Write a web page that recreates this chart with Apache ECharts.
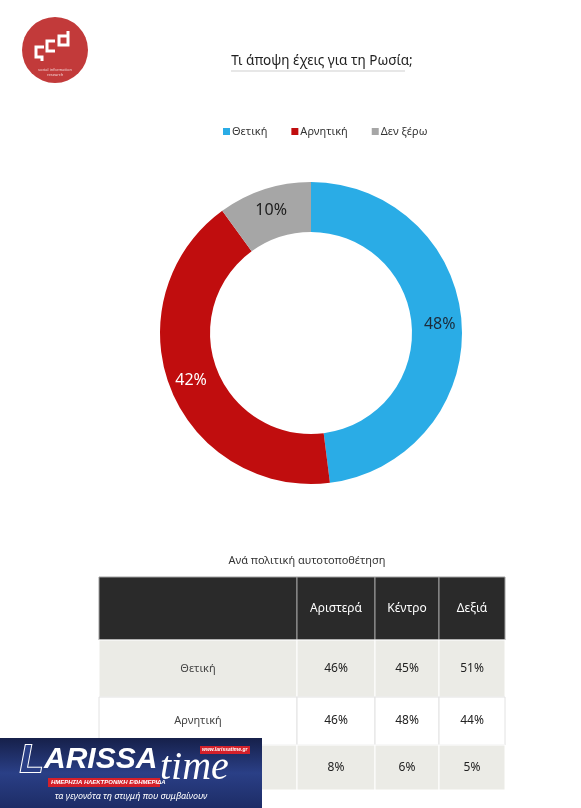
<!DOCTYPE html>
<html>
<head>
<meta charset="utf-8">
<script src="https://cdn.jsdelivr.net/npm/echarts@6/dist/echarts.min.js"></script>
<style>
  html, body { margin: 0; padding: 0; background: #fff; }
  #main { width: 581px; height: 808px; }
</style>
</head>
<body>
<div id="main"></div>
<script>
// donut data
var pieNames = ['Θετική', 'Αρνητική', 'Δεν ξέρω'];
var pieValues = [48, 42, 10];
var pieColors = ['#2aace6', '#c00d0e', '#a6a6a6'];
var pieLabelColors = ['#1c2b3a', '#ffffff', '#1c1c1c'];

// table data (by political self-placement)
var tableCols = ['Αριστερά', 'Κέντρο', 'Δεξιά'];
var tableRows = ['Θετική', 'Αρνητική', 'Δεν ξέρω'];
var leftVals = [46, 46, 8];
var centreVals = [45, 48, 6];
var rightVals = [51, 44, 5];

// table layout (column / row edges in grid units)
var colEdges = [0, 198, 276, 340, 406];
var rowEdges = [0, 63, 120, 168, 213];

var colVals = [leftVals, centreVals, rightVals];
var cells = [];
for (var c = 0; c < 4; c++) {
  cells.push({ value: [c, 0], text: c === 0 ? '' : tableCols[c - 1] });
}
for (var r = 0; r < tableRows.length; r++) {
  cells.push({ value: [0, r + 1], text: tableRows[r] });
  for (var k = 0; k < 3; k++) {
    cells.push({ value: [k + 1, r + 1], text: colVals[k][r] + '%' });
  }
}

var FONT = '"Noto Sans", sans-serif';

function renderCell(params, api) {
  var c = api.value(0), r = api.value(1);
  var p0 = api.coord([colEdges[c], rowEdges[r]]);
  var p1 = api.coord([colEdges[c + 1], rowEdges[r + 1]]);
  var fill, stroke, color, size;
  if (r === 0) {
    fill = '#2a2a2a'; stroke = '#a0a0a0'; color = '#ffffff'; size = 12;
  } else if (r % 2 === 1) {
    fill = '#ebebe6'; stroke = '#ffffff'; color = c === 0 ? '#444' : '#222'; size = c === 0 ? 11 : 12;
  } else {
    fill = '#ffffff'; stroke = '#e2e2e2'; color = c === 0 ? '#444' : '#222'; size = c === 0 ? 11 : 12;
  }
  return {
    type: 'group',
    children: [{
      type: 'rect',
      shape: { x: p0[0], y: p0[1], width: p1[0] - p0[0], height: p1[1] - p0[1] },
      style: { fill: fill, stroke: stroke, lineWidth: 1 }
    }, {
      type: 'text',
      x: (p0[0] + p1[0]) / 2,
      y: (p0[1] + p1[1]) / 2,
      style: {
        text: cells[params.dataIndex].text,
        fill: color, font: size + 'px ' + FONT,
        align: 'center', verticalAlign: 'middle'
      }
    }]
  };
}

var chart = echarts.init(document.getElementById('main'));

var option = {
  animation: false,
  backgroundColor: '#ffffff',
  title: [{
    text: 'Τι άποψη έχεις για τη Ρωσία;',
    left: 317, top: 49, textAlign: 'center',
    textStyle: { fontFamily: FONT, fontSize: 13.5, fontWeight: 'normal', color: '#222' }
  }, {
    text: 'Ανά πολιτική αυτοτοποθέτηση',
    left: 302, top: 550, textAlign: 'center',
    textStyle: { fontFamily: FONT, fontSize: 11, fontWeight: 'normal', color: '#333' }
  }],
  legend: {
    data: pieNames,
    top: 121, left: 218,
    icon: 'rect', itemWidth: 7, itemHeight: 7, itemGap: 24,
    textStyle: { fontFamily: FONT, fontSize: 11, color: '#333', padding: [0, 0, 0, -3] }
  },
  grid: { left: 99, top: 577, width: 406, height: 213 },
  xAxis: { type: 'value', min: 0, max: 406, show: false },
  yAxis: { type: 'value', min: 0, max: 213, inverse: true, show: false },
  series: [{
    type: 'pie',
    center: [311, 333],
    radius: [101, 151],
    startAngle: 90,
    clockwise: true,
    label: {
      position: 'inside', fontFamily: FONT, fontSize: 16,
      formatter: '{c}%'
    },
    labelLine: { show: false },
    emphasis: { disabled: true },
    data: pieNames.map(function (n, i) {
      return {
        name: n, value: pieValues[i],
        itemStyle: { color: pieColors[i] },
        label: { color: pieLabelColors[i] }
      };
    })
  }, {
    type: 'custom',
    coordinateSystem: 'cartesian2d',
    renderItem: renderCell,
    silent: true,
    data: cells.map(function (d) { return d.value; })
  }],
  graphic: [
    // title underline
    { type: 'line', shape: { x1: 231, y1: 71, x2: 405, y2: 71 }, style: { stroke: '#cfcfcf', lineWidth: 1 } },
    // logo
    {
      type: 'group', left: 22, top: 17,
      children: [
        { type: 'circle', shape: { cx: 33, cy: 33, r: 33 }, style: { fill: '#c23a3a' } },
        { type: 'polyline', shape: { points: [[22, 30], [14, 30], [14, 40], [20, 40], [20, 44]] }, style: { stroke: '#fff', lineWidth: 3, fill: null } },
        { type: 'polyline', shape: { points: [[33, 24], [25, 24], [25, 34], [33, 34]] }, style: { stroke: '#fff', lineWidth: 3, fill: null } },
        { type: 'polyline', shape: { points: [[46, 14], [46, 28], [37, 28], [37, 19], [46, 19]] }, style: { stroke: '#fff', lineWidth: 3, fill: null } },
        { type: 'text', x: 33, y: 50, style: { text: 'social information\nresearch', fill: '#f3d6d6', font: '4px ' + FONT, align: 'center', lineHeight: 5 } }
      ]
    },
    // newspaper banner (drawn over the last table row)
    {
      type: 'group', left: 0, top: 738,
      children: [
        {
          type: 'rect', z: 100, shape: { x: 0, y: 0, width: 262, height: 70 },
          style: {
            fill: new echarts.graphic.LinearGradient(0, 0, 0, 1, [
              { offset: 0, color: '#16204a' },
              { offset: 0.5, color: '#2a3f86' },
              { offset: 1, color: '#1d2c66' }
            ])
          }
        },
        { type: 'text', z: 101, x: 20, y: 5, style: { text: 'L', fill: '#2a3f86', stroke: '#fff', lineWidth: 2, font: 'italic bold 38px "Liberation Sans", sans-serif' } },
        { type: 'text', z: 101, x: 44, y: 7, style: { text: 'ARISSA', fill: '#fff', font: 'italic bold 30px "Liberation Sans", sans-serif' } },
        { type: 'rect', z: 101, shape: { x: 48, y: 40, width: 112, height: 9 }, style: { fill: '#d4202a' } },
        { type: 'text', z: 102, x: 51, y: 41.5, style: { text: 'ΗΜΕΡΗΣΙΑ ΗΛΕΚΤΡΟΝΙΚΗ ΕΦΗΜΕΡΙΔΑ', fill: '#fff', font: 'italic bold 6px "Liberation Sans", sans-serif' } },
        { type: 'text', z: 101, x: 160, y: 10, style: { text: 'time', fill: '#fff', font: 'italic 40px "Liberation Serif", serif' } },
        { type: 'rect', z: 101, shape: { x: 200, y: 8, width: 50, height: 8 }, style: { fill: '#d4202a' } },
        { type: 'text', z: 102, x: 202, y: 9.5, style: { text: 'www.larissatime.gr', fill: '#fff', font: 'italic bold 5px "Liberation Sans", sans-serif' } },
        { type: 'text', z: 101, x: 131, y: 54, style: { text: 'τα γεγονότα τη στιγμή που συμβαίνουν', fill: '#fff', font: 'italic 9px ' + FONT, align: 'center' } }
      ]
    }
  ]
};

chart.setOption(option);
</script>
</body>
</html>
